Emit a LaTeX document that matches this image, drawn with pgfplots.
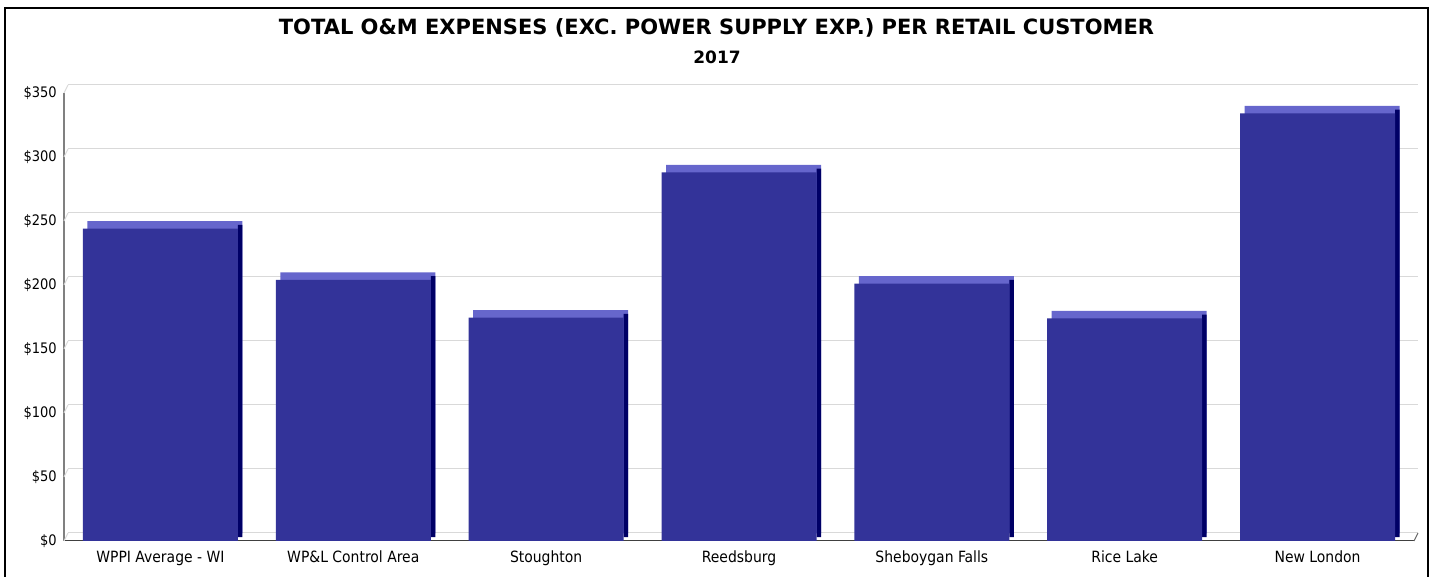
\documentclass[border=0pt]{standalone}
\usepackage{fontspec}
\setmainfont{DejaVu Sans Condensed}
\newfontfamily\titlefont{DejaVu Sans}
\usepackage{pgfplots}
\pgfplotsset{compat=1.18}
\usepackage{pgfplotstable}
\definecolor{barfront}{HTML}{333399}
\definecolor{bartop}{HTML}{6666CC}
\definecolor{barside}{HTML}{000066}
\definecolor{gridc}{HTML}{D9D9D9}
\pgfplotstableread{
x v
0 244
1 204
2 174.5
3 288
4 201
5 174
6 334
}\datatable
\begin{document}
\begin{tikzpicture}[x=1pt,y=1pt]
\begin{axis}[
  at={(64pt,36pt)}, anchor=south west, scale only axis,
  width=1350pt, height=448pt,
  xmin=-0.5, xmax=6.5, ymin=0, ymax=350,
  clip=false,
  axis x line*=bottom, axis y line*=left,
  x axis line style={draw=black!75, line width=1pt},
  y axis line style={draw=gray, line width=2pt},
  tick style={draw=none},
  ymajorgrids, major grid style={draw=gridc, line width=1pt, xshift=4pt, yshift=8pt},
  ytick={0,50,...,350},
  yticklabels={\$0,\$50,\$100,\$150,\$200,\$250,\$300,\$350},
  xtick={0,...,6},
  xticklabels={WPPI Average - WI, WP\&L Control Area, Stoughton, Reedsburg, Sheboygan Falls, Rice Lake, New London},
  yticklabel style={font=\fontsize{14.5}{17}\selectfont, anchor=east, inner sep=0pt, xshift=-7pt},
  xticklabel style={font=\fontsize{15.5}{18}\selectfont, anchor=base, inner sep=0pt, yshift=-22pt},
]
\pgfplotsinvokeforeach{0,50,...,350}{\draw[gridc, line width=1pt] (axis cs:-0.5,#1) -- ++(4pt,8pt);}
\draw[black!60, line width=1pt] (axis cs:6.5,0) -- ++(4pt,8pt);
\addplot[ybar, bar width=155pt, bar shift=4.5pt, yshift=7.5pt, fill=bartop, draw=none] table[x=x,y=v] {\datatable};
\addplot[ybar, bar width=4.5pt, bar shift=79.75pt, yshift=3.75pt, fill=barside, draw=none] table[x=x,y=v] {\datatable};
\addplot[ybar, bar width=155pt, bar shift=0pt, fill=barfront, draw=none] table[x=x,y=v] {\datatable};
\end{axis}
\node[font=\titlefont\bfseries\fontsize{21}{26}\selectfont, anchor=base] at (716.5,542) {TOTAL O\&M EXPENSES (EXC. POWER SUPPLY EXP.) PER RETAIL CUSTOMER};
\node[font=\titlefont\bfseries\fontsize{17}{21}\selectfont, anchor=base] at (717,513) {2017};
\draw[line width=2.5pt] (5,-5) rectangle (1428,569);
\pgfresetboundingbox
\useasboundingbox (0,0) rectangle (1433,577);
\end{tikzpicture}
\end{document}
